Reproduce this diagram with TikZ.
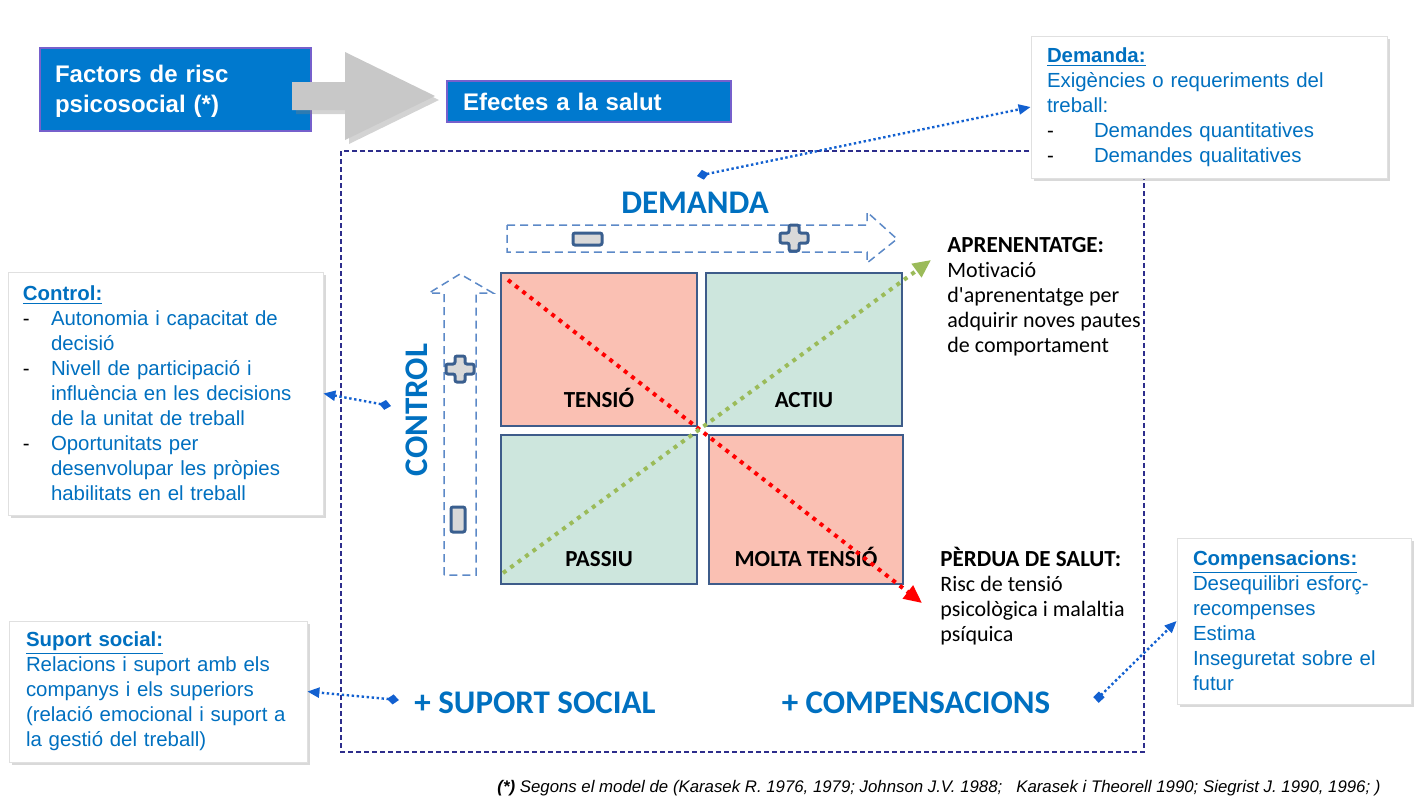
\documentclass[tikz,border=0pt]{standalone}
\usepackage{fontspec}
\setmainfont{Liberation Sans}
\newfontfamily\calibri[Ligatures=NoCommon]{Carlito}
\usetikzlibrary{positioning,shadows,arrows.meta,calc}

\definecolor{titleblue}{RGB}{0,121,206}
\definecolor{titleborder}{RGB}{118,96,204}
\definecolor{textblue}{RGB}{0,112,192}
\definecolor{framenavy}{RGB}{45,45,140}
\definecolor{axisblue}{RGB}{92,137,199}
\definecolor{signblue}{RGB}{58,95,143}
\definecolor{signgrey}{RGB}{217,217,217}
\definecolor{quadborder}{RGB}{62,92,138}
\definecolor{salmon}{RGB}{250,192,179}
\definecolor{mint}{RGB}{205,230,221}
\definecolor{learngreen}{RGB}{155,187,89}
\definecolor{linkblue}{RGB}{18,96,208}
\definecolor{arrowgrey}{RGB}{200,200,200}

\newcommand{\dashmark}[1]{\makebox[#1][l]{\color{black}-}}

\begin{document}
\begin{tikzpicture}[x=0.5pt, y=-0.5pt,
  titlebox/.style={rectangle, draw=titleborder, fill=titleblue, line width=1pt, text=white, font=\bfseries\fontsize{12}{15}\selectfont, align=left},
  infobox/.style={rectangle, draw=black!12, fill=white, line width=0.4pt, text=textblue, font=\fontsize{10.2}{12.5}\selectfont, align=left, inner ysep=0pt, drop shadow={shadow xshift=1.5pt, shadow yshift=-1.5pt, opacity=0.3}},
  quadnode/.style={rectangle, draw=quadborder, line width=1pt, minimum width=98pt, minimum height=76.5pt, inner sep=0pt},
  quadlabel/.style={font=\calibri\bfseries\fontsize{11.5}{13}\selectfont, anchor=base},
  bigword/.style={font=\calibri\bfseries\fontsize{16.5}{19}\selectfont, text=textblue},
  effectnote/.style={font=\calibri\fontsize{11}{12.5}\selectfont, align=left, anchor=base west, inner sep=0pt},
  linkarrow/.style={draw=linkblue, line width=1.2pt, dash pattern=on 1.2pt off 1.3pt},
  diagline/.style={line width=2pt, dash pattern=on 2pt off 2.6pt},
  axisshape/.style={draw=axisblue, line width=0.75pt, dash pattern=on 4pt off 2.5pt},
  signshape/.style={draw=signblue, fill=signgrey, line width=1.5pt, rounded corners=1pt}]

  \useasboundingbox (0,0) rectangle (1418,810);

  % title boxes and grey arrow
  \node[titlebox, text width=120.5pt, inner xsep=7.5pt, minimum height=41.5pt, text height=10.5pt] (factors) at (175.5,89.5) {Factors de risc\\psicosocial (*)};
  \node[titlebox, text width=126pt, inner xsep=8pt, minimum height=20.5pt] (efectes) at (589,101.5) {Efectes a la salut};
  \fill[arrowgrey, drop shadow={shadow xshift=2pt, shadow yshift=-2pt, opacity=0.35}] (292,82) -- (345,82) -- (345,52) -- (435,96) -- (345,140) -- (345,110) -- (292,110) -- cycle;

  % model frame
  \draw[draw=framenavy, line width=0.8pt, dash pattern=on 2.5pt off 1.5pt] (341,151) rectangle (1144,752);

  % info boxes
  \node[infobox, text width=162pt, inner xsep=8pt, minimum height=71pt] (demandabox) at (1209,107) {\textbf{\underline{Demanda:}}\\Exigències o requeriments del\\treball:\\\dashmark{23.5pt}Demandes quantitatives\\\dashmark{23.5pt}Demandes qualitatives};
  \node[infobox, text width=142.5pt, inner xsep=7.5pt, minimum height=121.5pt] (controlbox) at (165.5,393.5) {\textbf{\underline{Control:}}\\\dashmark{14pt}Autonomia i capacitat de\\\hspace*{14pt}decisió\\\dashmark{14pt}Nivell de participació i\\\hspace*{14pt}influència en les decisions\\\hspace*{14pt}de la unitat de treball\\\dashmark{14pt}Oportunitats per\\\hspace*{14pt}desenvolupar les pròpies\\\hspace*{14pt}habilitats en el treball};
  \node[infobox, text width=132pt, inner xsep=8.5pt, minimum height=70.5pt] (suportbox) at (158,691.5) {\textbf{\underline{Suport social:}}\\Relacions i suport amb els\\companys i els superiors\\(relació emocional i suport~a\\la gestió del treball)};
  \node[infobox, text width=101pt, inner xsep=8pt, minimum height=83pt] (compensbox) at (1294,621) {\textbf{\underline{Compensacions:}}\\Desequilibri esforç-\\recompenses\\Estima\\Inseguretat sobre el\\futur};

  % links to the info boxes
  \coordinate (demandapt) at (697,176);
  \coordinate (controlpt) at (391,406);
  \coordinate (suportpt) at (399,700);
  \coordinate (compenspt) at (1096,700);
  \draw[linkarrow, {Diamond[length=6pt,width=5pt]}-{Triangle[length=6pt,width=5pt]}] (demandapt) -- (demandabox.west);
  \draw[linkarrow, {Diamond[length=6pt,width=5pt]}-{Triangle[length=6pt,width=5pt]}] (controlpt) -- (controlbox.east);
  \draw[linkarrow, {Diamond[length=6pt,width=5pt]}-{Triangle[length=6pt,width=5pt]}] (suportpt) -- (suportbox.east);
  \draw[linkarrow, {Square[length=4pt,width=4pt]}-{Triangle[length=6pt,width=5pt]}] (compenspt) -- (compensbox.west);

  % axis arrows with signs
  \draw[axisshape] (507,225) -- (867,225) -- (867,212) -- (897,239) -- (867,263) -- (867,252) -- (507,252) -- cycle;
  \draw[axisshape] (444,575) -- (444,293) -- (429,293) -- (460,274) -- (493,293) -- (476,293) -- (476,575) -- cycle;
  \draw[signshape] (573,233) rectangle (602,245);
  \draw[signshape] (451,507) rectangle (465,532);
  \foreach \cx/\cy in {794/238, 460/369}
    \draw[signshape, shift={(\cx,\cy)}] (-5,-13) -- (5,-13) -- (5,-5) -- (14,-5) -- (14,5) -- (5,5) -- (5,13) -- (-5,13) -- (-5,5) -- (-14,5) -- (-14,-5) -- (-5,-5) -- cycle;

  % quadrants
  \node[quadnode, fill=salmon] (tensio) at (599,349.5) {};
  \node[quadnode, fill=mint] (actiu) [right=3.5pt of tensio] {};
  \node[quadnode, fill=mint, minimum height=74.5pt] (passiu) [below=3.5pt of tensio] {};
  \node[quadnode, fill=salmon, minimum height=74.5pt, minimum width=97pt] (molta) [right=5pt of passiu] {};
  \node[quadlabel] (tensiolbl) at ($(tensio.south)+(0,-20)$) {TENSIÓ};
  \node[quadlabel] (actiulbl) at ($(actiu.south)+(0,-20)$) {ACTIU};
  \node[quadlabel] (passiulbl) at ($(passiu.south)+(0,-19)$) {PASSIU};
  \node[quadlabel] (moltalbl) at ($(molta.south)+(0,-19)$) {MOLTA TENSIÓ};

  % diagonals
  \coordinate (redstart) at (508,280);
  \coordinate (redend) at (922,603);
  \coordinate (greenstart) at (503,573);
  \coordinate (greenend) at (931,260);
  \draw[diagline, draw=red, -{Triangle[length=9pt,width=8pt]}] (redstart) -- (redend);
  \draw[diagline, draw=learngreen, -{Triangle[length=9pt,width=8pt]}] (greenstart) -- (greenend);

  % big words
  \node[bigword] (demandaword) at (695,203) {DEMANDA};
  \node[bigword, rotate=90] (controlword) at (417,410) {CONTROL};
  \node[bigword] (suportword) at (535,703) {+ SUPORT SOCIAL};
  \node[bigword] (compensword) at (916,703) {+ COMPENSACIONS};

  % effects
  \node[effectnote] (learnnote) at (947,352) {\textbf{\fontsize{11.5}{12.5}\selectfont APRENENTATGE:}\\Motivació\\d\textquotesingle aprenentatge per\\adquirir noves pautes\\de comportament};
  \node[effectnote] (lossnote) at (940,641) {\textbf{\fontsize{11.5}{12.5}\selectfont PÈRDUA DE SALUT:}\\Risc de tensió\\psicològica i malaltia\\psíquica};

  \node[font=\itshape\fontsize{8.4}{10}\selectfont, anchor=east, inner sep=0pt] (footnote) at (1381,788) {\textbf{(*)} Segons el model de (Karasek R. 1976, 1979; Johnson J.V. 1988;\ \ \ Karasek i Theorell 1990; Siegrist J. 1990, 1996; )};

\end{tikzpicture}
\end{document}
